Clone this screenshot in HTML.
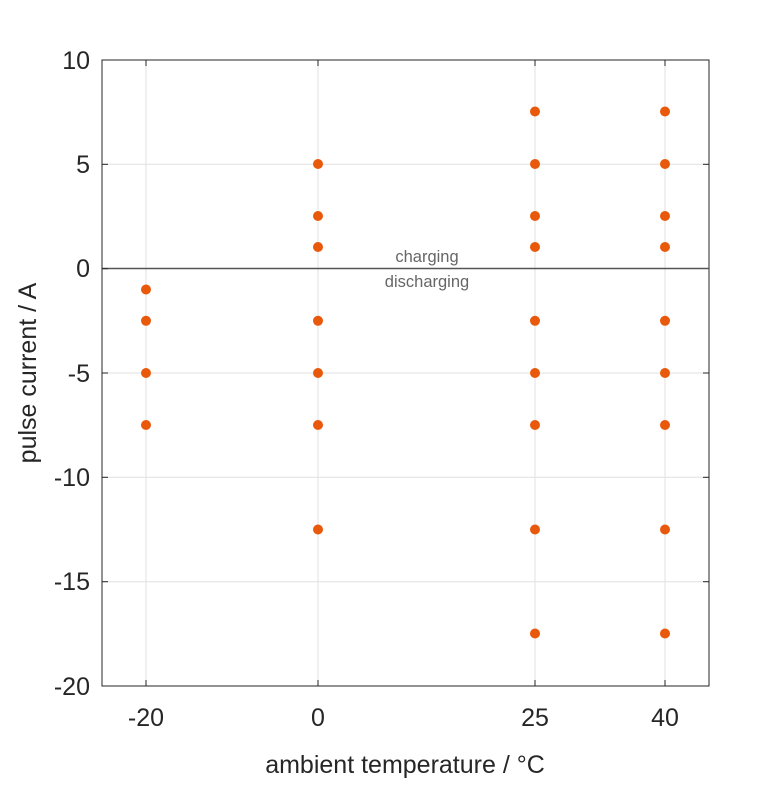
<!DOCTYPE html>
<html><head><meta charset="utf-8"><style>body{margin:0;background:#fff}</style></head><body>
<svg width="781" height="781" viewBox="0 0 781 781" xmlns="http://www.w3.org/2000/svg" font-family="Liberation Sans, sans-serif">
<rect width="781" height="781" fill="#fff"/>
<g stroke="#e0e0e0" stroke-width="1">
<line x1="146" y1="60" x2="146" y2="686"/><line x1="318" y1="60" x2="318" y2="686"/>
<line x1="535" y1="60" x2="535" y2="686"/><line x1="665" y1="60" x2="665" y2="686"/>
<line x1="102" y1="164.3" x2="709" y2="164.3"/><line x1="102" y1="373" x2="709" y2="373"/>
<line x1="102" y1="477.3" x2="709" y2="477.3"/><line x1="102" y1="581.7" x2="709" y2="581.7"/>
</g>
<rect x="102" y="60" width="607" height="626" fill="none" stroke="#262626" stroke-width="1"/>
<line x1="102" y1="268.5" x2="709" y2="268.5" stroke="#555" stroke-width="1.5"/>
<g stroke="#262626">
<line x1="146" y1="686" x2="146" y2="680"/><line x1="318" y1="686" x2="318" y2="680"/><line x1="535" y1="686" x2="535" y2="680"/><line x1="665" y1="686" x2="665" y2="680"/>
<line x1="146" y1="60" x2="146" y2="66"/><line x1="318" y1="60" x2="318" y2="66"/><line x1="535" y1="60" x2="535" y2="66"/><line x1="665" y1="60" x2="665" y2="66"/>
<line x1="102" y1="60" x2="108" y2="60"/><line x1="102" y1="164.3" x2="108" y2="164.3"/><line x1="102" y1="268.7" x2="108" y2="268.7"/><line x1="102" y1="373" x2="108" y2="373"/><line x1="102" y1="477.3" x2="108" y2="477.3"/><line x1="102" y1="581.7" x2="108" y2="581.7"/>
<line x1="709" y1="60" x2="703" y2="60"/><line x1="709" y1="164.3" x2="703" y2="164.3"/><line x1="709" y1="373" x2="703" y2="373"/><line x1="709" y1="477.3" x2="703" y2="477.3"/><line x1="709" y1="581.7" x2="703" y2="581.7"/>
</g>
<g font-size="25" fill="#262626" text-anchor="end">
<text x="90" y="69">10</text><text x="90" y="173">5</text><text x="90" y="277">0</text><text x="90" y="382">-5</text><text x="90" y="486">-10</text><text x="90" y="590">-15</text><text x="90" y="695">-20</text>
</g>
<g font-size="25" fill="#262626" text-anchor="middle">
<text x="146" y="726">-20</text><text x="318" y="726">0</text><text x="535" y="726">25</text><text x="665" y="726">40</text>
<text x="405" y="773">ambient temperature / °C</text>
<text transform="translate(36,373) rotate(-90)">pulse current / A</text>
</g>
<g font-size="16.5" fill="#666" text-anchor="middle">
<text x="427" y="262">charging</text><text x="427" y="287">discharging</text>
</g>
<g fill="#e8590c">
<circle cx="146" cy="289.5" r="5"/><circle cx="146" cy="320.8" r="5"/><circle cx="146" cy="373" r="5"/><circle cx="146" cy="425" r="5"/>
<circle cx="318" cy="164" r="5"/><circle cx="318" cy="216" r="5"/><circle cx="318" cy="247" r="5"/><circle cx="318" cy="320.8" r="5"/><circle cx="318" cy="373" r="5"/><circle cx="318" cy="425" r="5"/><circle cx="318" cy="529.5" r="5"/>
<circle cx="535" cy="111.5" r="5"/><circle cx="535" cy="164" r="5"/><circle cx="535" cy="216" r="5"/><circle cx="535" cy="247" r="5"/><circle cx="535" cy="320.8" r="5"/><circle cx="535" cy="373" r="5"/><circle cx="535" cy="425" r="5"/><circle cx="535" cy="529.5" r="5"/><circle cx="535" cy="633.5" r="5"/>
<circle cx="665" cy="111.5" r="5"/><circle cx="665" cy="164" r="5"/><circle cx="665" cy="216" r="5"/><circle cx="665" cy="247" r="5"/><circle cx="665" cy="320.8" r="5"/><circle cx="665" cy="373" r="5"/><circle cx="665" cy="425" r="5"/><circle cx="665" cy="529.5" r="5"/><circle cx="665" cy="633.5" r="5"/>
</g>
</svg>
</body></html>
